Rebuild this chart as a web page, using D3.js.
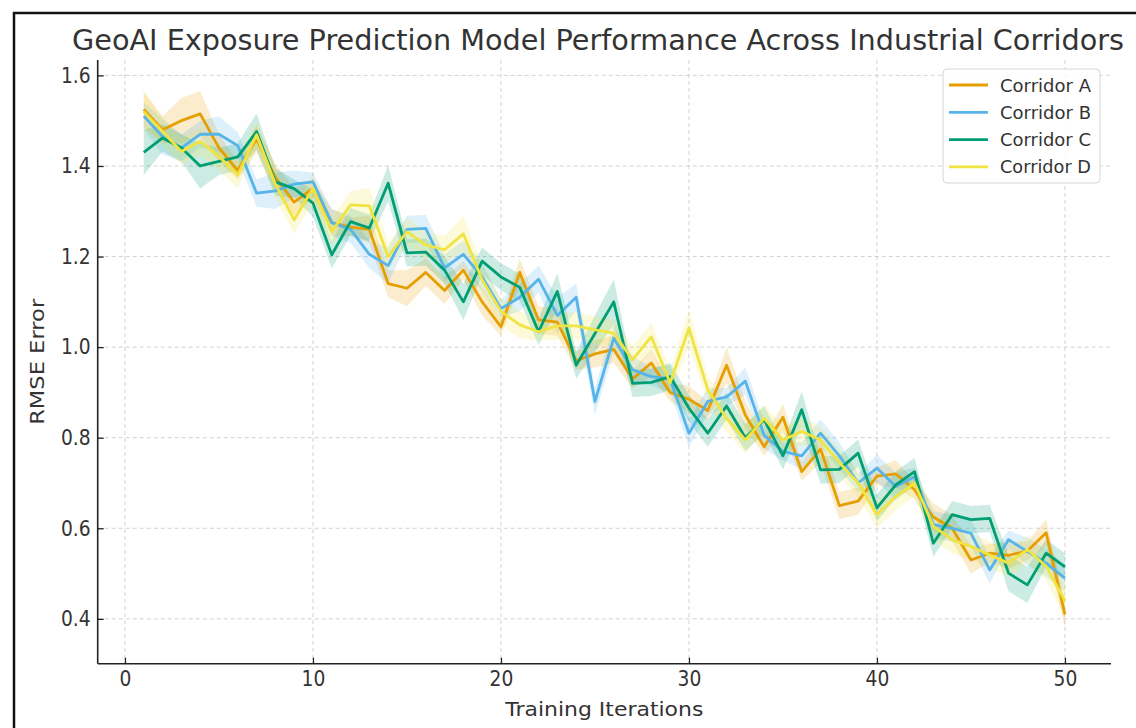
<!DOCTYPE html>
<html>
<head>
<meta charset="utf-8">
<script src="https://cdn.jsdelivr.net/npm/d3@7"></script>
<style>
  body { margin: 0; background: #fff; }
  svg { display: block; font-family: "DejaVu Sans", sans-serif; }
</style>
</head>
<body>
<script>
// data
const iterations = d3.range(1, 51)
const seriesNames = ["Corridor A", "Corridor B", "Corridor C", "Corridor D"]
const seriesColors = ["#E69F00", "#56B4E9", "#009E73", "#F0E442"]

const corridorA = [1.525,1.48,1.50,1.515,1.44,1.39,1.46,1.375,1.32,1.35,
  1.275,1.265,1.26,1.14,1.13,1.165,1.125,1.17,1.10,1.045,
  1.165,1.06,1.055,0.97,0.985,0.995,0.93,0.965,0.90,0.885,
  0.86,0.96,0.85,0.78,0.845,0.725,0.775,0.65,0.66,0.715,
  0.72,0.685,0.625,0.60,0.53,0.545,0.54,0.55,0.59,0.41]
const corridorB = [1.51,1.465,1.44,1.47,1.47,1.445,1.34,1.345,1.36,1.365,
  1.275,1.26,1.205,1.18,1.26,1.262,1.175,1.205,1.155,1.085,
  1.11,1.15,1.07,1.11,0.88,1.02,0.95,0.935,0.93,0.81,
  0.88,0.89,0.925,0.805,0.77,0.76,0.81,0.76,0.70,0.733,
  0.692,0.714,0.608,0.60,0.589,0.508,0.575,0.549,0.523,0.49]
const corridorC = [1.43,1.462,1.44,1.40,1.41,1.42,1.476,1.365,1.35,1.318,
  1.204,1.277,1.263,1.362,1.208,1.21,1.17,1.10,1.19,1.155,
  1.132,1.034,1.123,0.96,1.03,1.10,0.92,0.922,0.935,0.865,
  0.81,0.87,0.80,0.84,0.76,0.862,0.729,0.73,0.766,0.645,
  0.696,0.725,0.567,0.63,0.619,0.622,0.501,0.475,0.545,0.515]
const corridorD = [1.52,1.476,1.432,1.454,1.421,1.38,1.469,1.36,1.281,1.351,
  1.255,1.314,1.312,1.20,1.255,1.226,1.215,1.25,1.149,1.079,
  1.049,1.034,1.047,1.047,1.038,1.031,0.972,1.023,0.921,1.042,
  0.906,0.843,0.795,0.843,0.795,0.814,0.795,0.745,0.70,0.63,
  0.67,0.70,0.604,0.575,0.56,0.541,0.523,0.553,0.516,0.44]

// half width of the shaded band around each line
const spreadA = [0.04,0.03,0.05,0.05,0.03,0.02,0.03,0.03,0.03,0.02,
  0.03,0.02,0.03,0.03,0.04,0.03,0.03,0.02,0.03,0.02,
  0.03,0.03,0.03,0.02,0.03,0.03,0.02,0.03,0.02,0.03,
  0.02,0.04,0.03,0.02,0.03,0.02,0.03,0.03,0.03,0.02,
  0.03,0.02,0.03,0.03,0.03,0.02,0.03,0.02,0.03,0.03]
const spreadB = [0.03,0.04,0.03,0.03,0.04,0.03,0.03,0.04,0.03,0.02,
  0.03,0.03,0.03,0.04,0.03,0.03,0.03,0.03,0.03,0.02,
  0.03,0.03,0.04,0.03,0.03,0.03,0.03,0.02,0.03,0.03,
  0.03,0.02,0.03,0.03,0.02,0.03,0.03,0.03,0.02,0.03,
  0.03,0.02,0.03,0.03,0.03,0.03,0.02,0.03,0.03,0.03]
const spreadC = [0.05,0.03,0.03,0.05,0.03,0.03,0.04,0.03,0.02,0.03,
  0.03,0.03,0.03,0.04,0.03,0.03,0.03,0.04,0.03,0.03,
  0.03,0.03,0.04,0.03,0.04,0.05,0.03,0.03,0.03,0.03,
  0.03,0.03,0.03,0.03,0.03,0.04,0.03,0.03,0.03,0.03,
  0.03,0.03,0.03,0.03,0.03,0.03,0.04,0.04,0.03,0.03]
const spreadD = [0.04,0.03,0.03,0.03,0.03,0.03,0.03,0.03,0.03,0.03,
  0.03,0.03,0.04,0.03,0.03,0.03,0.03,0.04,0.03,0.03,
  0.03,0.02,0.03,0.03,0.03,0.03,0.03,0.03,0.03,0.04,
  0.03,0.03,0.03,0.03,0.03,0.03,0.03,0.03,0.03,0.03,
  0.03,0.03,0.03,0.03,0.03,0.03,0.03,0.03,0.03,0.04]

const xTicks = [0, 10, 20, 30, 40, 50]
const yTicks = [0.4, 0.6, 0.8, 1.0, 1.2, 1.4, 1.6]

const allValues = [corridorA, corridorB, corridorC, corridorD]
const allSpreads = [spreadA, spreadB, spreadC, spreadD]

const W = 1136, H = 728
const plot = {left: 97.7, right: 1111, top: 60, bottom: 663.7}
const squeeze = "scale(0.89,1)"   // the picture's text is a bit narrow

const svg = d3.select("body").append("svg")
  .attr("width", W).attr("height", H)

svg.append("rect").attr("width", W).attr("height", H).attr("fill", "#fff")

// outer frame (only left and top edges are in view)
svg.append("rect")
  .attr("x", 14).attr("y", 13)
  .attr("width", W + 20).attr("height", H + 20)
  .attr("fill", "none").attr("stroke", "#111").attr("stroke-width", 2.5)

const x = d3.scaleLinear().domain([-1.45, 52.45]).range([plot.left, plot.right])
const y = d3.scaleLinear().domain([0.301, 1.634]).range([plot.bottom, plot.top])

// grid
const grid = svg.append("g")
grid.selectAll(".gx").data(xTicks).enter().append("line")
  .attr("x1", d => x(d)).attr("x2", d => x(d))
  .attr("y1", plot.top).attr("y2", plot.bottom)
  .attr("stroke", "#c8c8c8").attr("stroke-width", 0.8).attr("stroke-dasharray", "4,3")
grid.selectAll(".gy").data(yTicks).enter().append("line")
  .attr("x1", plot.left).attr("x2", plot.right)
  .attr("y1", d => y(d)).attr("y2", d => y(d))
  .attr("stroke", "#c8c8c8").attr("stroke-width", 0.8).attr("stroke-dasharray", "4,3")

// bands then lines
const area = d3.area()
  .x(d => x(d.i))
  .y0(d => y(d.v - d.s))
  .y1(d => y(d.v + d.s))
const line = d3.line().x(d => x(d.i)).y(d => y(d.v))

const series = seriesNames.map((name, k) => ({
  name: name,
  color: seriesColors[k],
  points: iterations.map((it, j) => ({i: it, v: allValues[k][j], s: allSpreads[k][j]}))
}))

svg.append("g").selectAll("path").data(series).enter().append("path")
  .attr("d", d => area(d.points))
  .attr("fill", d => d.color).attr("fill-opacity", 0.2)

svg.append("g").selectAll("path").data(series).enter().append("path")
  .attr("d", d => line(d.points))
  .attr("fill", "none").attr("stroke", d => d.color)
  .attr("stroke-width", 2.8).attr("stroke-linejoin", "round")

// axes
const xAxis = d3.axisBottom(x).tickValues(xTicks).tickFormat(d3.format("d"))
  .tickSizeInner(-6).tickSizeOuter(0).tickPadding(7.5)
const yAxis = d3.axisLeft(y).tickValues(yTicks).tickFormat(d3.format(".1f"))
  .tickSizeInner(-6).tickSizeOuter(0).tickPadding(8)

const gx = svg.append("g").attr("transform", "translate(0," + plot.bottom + ")").call(xAxis)
gx.select(".domain").attr("d", "M" + plot.left + ",0H" + plot.right)
const gy = svg.append("g").attr("transform", "translate(" + plot.left + ",0)").call(yAxis)
gy.select(".domain").attr("d", "M0," + plot.top + "V" + plot.bottom)

;[gx, gy].forEach(g => {
  g.select(".domain").attr("stroke", "#222").attr("stroke-width", 1.6)
  g.selectAll(".tick line").attr("stroke", "#222").attr("stroke-width", 1.3)
  g.selectAll(".tick text")
    .attr("fill", "#333").style("font-size", "21px")
    .attr("font-family", "DejaVu Sans").attr("transform", squeeze)
})

// axis labels
svg.append("text")
  .attr("x", (plot.left + plot.right) / 2).attr("y", 716)
  .attr("text-anchor", "middle").attr("fill", "#333").style("font-size", "20px")
  .attr("textLength", 198).attr("lengthAdjust", "spacingAndGlyphs")
  .text("Training Iterations")

svg.append("text")
  .attr("transform", "translate(44," + ((plot.top + plot.bottom) / 2) + ") rotate(-90)")
  .attr("text-anchor", "middle").attr("fill", "#333").style("font-size", "20px")
  .attr("textLength", 126).attr("lengthAdjust", "spacingAndGlyphs")
  .text("RMSE Error")

// title
svg.append("text")
  .attr("x", 72).attr("y", 49.5)
  .attr("fill", "#333").style("font-size", "27.5px")
  .attr("textLength", 1052).attr("lengthAdjust", "spacingAndGlyphs")
  .text("GeoAI Exposure Prediction Model Performance Across Industrial Corridors")

// legend
const legend = svg.append("g")
legend.append("rect")
  .attr("x", 943).attr("y", 69).attr("width", 157).attr("height", 114)
  .attr("rx", 4).attr("fill", "#fff").attr("fill-opacity", 0.85)
  .attr("stroke", "#d6d6d6").attr("stroke-width", 1)

const rows = legend.selectAll(".row").data(series).enter().append("g")
  .attr("transform", (d, i) => "translate(0," + (85 + i * 27.3) + ")")
rows.append("line")
  .attr("x1", 949).attr("x2", 988)
  .attr("stroke", d => d.color).attr("stroke-width", 2.8)
rows.append("text")
  .attr("x", 1000).attr("y", 6.5)
  .attr("fill", "#333").style("font-size", "18.5px")
  .attr("textLength", 91).attr("lengthAdjust", "spacingAndGlyphs")
  .text(d => d.name)
</script>
</body>
</html>
